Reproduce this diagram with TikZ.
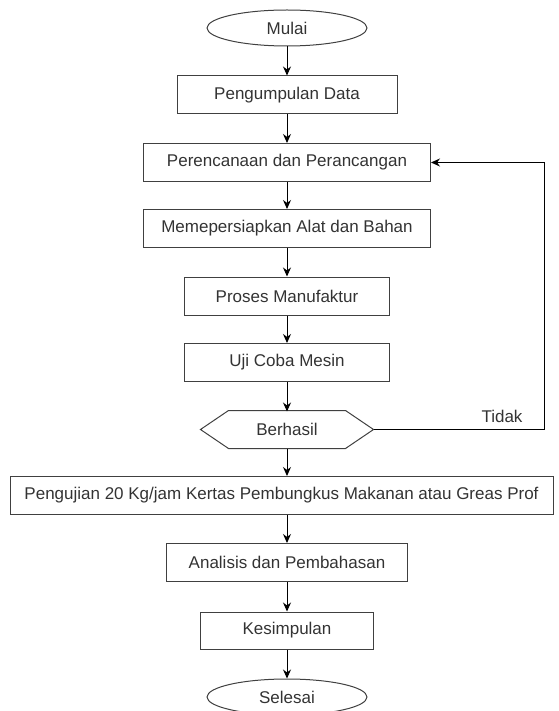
\documentclass[tikz,border=0pt]{standalone}
\usepackage{fontspec}
\setmainfont{Liberation Sans}
\usetikzlibrary{arrows.meta,shapes.geometric}
\begin{document}
\begin{tikzpicture}[x=1pt,y=-1pt,
    kotak/.style={draw=black!75,line width=1pt,minimum height=38pt,inner sep=0pt,font=\fontsize{17}{20}\selectfont,text=black!80},
    oval/.style={kotak,ellipse,minimum width=160pt,minimum height=36pt},
    label/.style={font=\fontsize{17}{20}\selectfont,text=black!80,inner sep=0pt},
    panah/.style={line width=1pt,-{Stealth[length=9pt,width=8pt]}}]
    \useasboundingbox (0,0) rectangle (558,711);
    \node[oval] (mulai) at (287,28) {Mulai};
    \node[kotak,minimum width=220pt] (kumpul) at (287,95) {Pengumpulan Data};
    \node[kotak,minimum width=287pt] (rencana) at (287,162.5) {Perencanaan dan Perancangan};
    \node[kotak,minimum width=287pt] (siap) at (287,228.5) {Memepersiapkan Alat dan Bahan};
    \node[kotak,minimum width=205pt] (proses) at (287,296) {Proses Manufaktur};
    \node[kotak,minimum width=205pt] (uji) at (287,362.5) {Uji Coba Mesin};
    \node[kotak,draw=none,minimum width=172pt,minimum height=37pt] (hasil) at (287,429.5) {Berhasil};
    \draw[line width=1pt,black!75] (hasil.west) -- ([xshift=28pt]hasil.north west) -- ([xshift=-28pt]hasil.north east) -- (hasil.east) -- ([xshift=-28pt]hasil.south east) -- ([xshift=28pt]hasil.south west) -- cycle;
    \node[kotak,minimum width=543pt] (pengujian) at (281.5,495.5) {Pengujian 20 Kg/jam Kertas Pembungkus Makanan atau Greas Prof};
    \node[kotak,minimum width=241pt] (analisis) at (287,562.5) {Analisis dan Pembahasan};
    \node[kotak,minimum width=173pt,minimum height=37pt] (simpul) at (287,630.5) {Kesimpulan};
    \node[oval] (selesai) at (287,697) {Selesai};
    \node[label] (tidak) at (502,416) {Tidak};
    \coordinate (balik) at (544,162.5);
    \draw[panah] (mulai) -- (kumpul);
    \draw[panah] (kumpul) -- (rencana);
    \draw[panah] (rencana) -- (siap);
    \draw[panah] (siap) -- (proses);
    \draw[panah] (proses) -- (uji);
    \draw[panah] (uji.south) -- ([yshift=-1pt]hasil.north);
    \draw[panah] (hasil.south) -- (hasil.south |- pengujian.north);
    \draw[panah] (hasil.south |- pengujian.south) -- (analisis);
    \draw[panah] (analisis) -- (simpul);
    \draw[panah] (simpul) -- (selesai);
    \draw[panah] (hasil.east) -| (balik) -- (rencana.east);
\end{tikzpicture}
\end{document}
